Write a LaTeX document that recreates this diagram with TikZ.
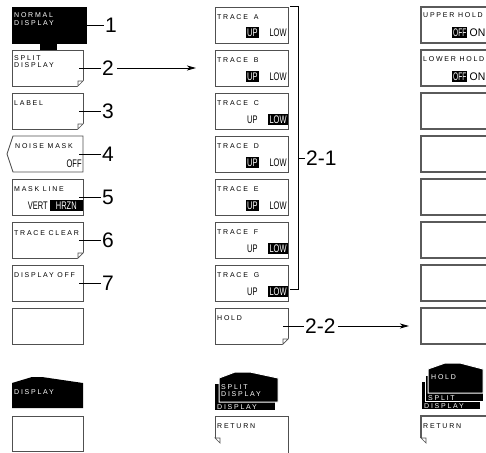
\documentclass[tikz,border=0pt]{standalone}
\usepackage{fontspec}
\usepackage{graphicx}
\setmainfont{Liberation Sans}
\newfontfamily\uif[LetterSpace=25]{Liberation Sans}
\usetikzlibrary{arrows.meta}
\definecolor{boxc}{RGB}{80,80,80}
\definecolor{rboxc}{RGB}{90,90,90}
\newcommand{\cnd}[1]{\scalebox{0.68}[1]{#1}}
\newcommand{\cndn}[1]{\scalebox{0.6}[1]{#1}}
\newcommand{\cndw}[1]{\scalebox{0.95}[1]{#1}}
\newcommand{\mkfold}[1]{%
  \fill[white] ([xshift=-5.6pt,yshift=-1pt]#1.south east) -- ([xshift=1pt,yshift=-1pt]#1.south east) -- ([xshift=1pt,yshift=5.6pt]#1.south east) -- cycle;
  \draw[boxc, line width=0.7pt, line join=miter] ([xshift=-5pt]#1.south east) -- ([yshift=5pt]#1.south east) -- ([xshift=-5pt,yshift=5pt]#1.south east) -- cycle;}
\tikzset{
  box/.style={draw=boxc, line width=0.9pt, fill=white, rectangle, inner sep=0pt, outer sep=0pt,
    minimum width=71pt, minimum height=36pt, anchor=north west},
  mbox/.style={box, minimum width=73pt},
  rbox/.style={box, draw=rboxc, line width=1.4pt, minimum width=80pt},
  ttl/.style={anchor=base west, inner sep=0pt, font=\uif\fontsize{7}{7}\selectfont},
  wttl/.style={ttl, text=white},
  opt/.style={anchor=base east, inner xsep=1.2pt, inner ysep=1.5pt, text height=8pt, text depth=0pt,
    font=\fontsize{11}{11}\selectfont},
  hl/.style={opt, fill=black, text=white},
  num/.style={anchor=west, inner sep=0pt, font=\fontsize{21}{21}\selectfont},
  lead/.style={line width=0.9pt},
  arr/.style={line width=0.9pt, -{Stealth[length=9pt,width=5pt,inset=2.5pt]}},
}
\begin{document}
\begin{tikzpicture}[x=1pt,y=-1pt]
\useasboundingbox[fill=white] (0,0) rectangle (486,452);

% ---------------- left column ----------------
\fill (40,42) rectangle (57,51);
\node[box, fill=black, draw=black, minimum width=74pt] (b1) at (12,7) {};
\node[wttl] (t1a) at (14,17.5) {NORMAL};
\node[wttl] (t1b) at (14,25.5) {DISPLAY};

\node[box] (b2) at (12,50) {};
\mkfold{b2}
\node[ttl] (t2a) at (14,60) {SPLIT};
\node[ttl] (t2b) at (14,67.5) {DISPLAY};

\node[box] (b3) at (12,93) {};
\mkfold{b3}
\node[ttl] (t3) at (14,105) {LABEL};

\node[rectangle, inner sep=0pt, outer sep=0pt, minimum width=70pt, minimum height=36pt, anchor=north west] (b4) at (13,136) {};
\draw[boxc, line width=0.9pt, fill=white] (b4.north west) -- (b4.north east) -- (b4.south east) -- (b4.south west) -- ([xshift=-6pt]b4.west) -- cycle;
\node[ttl] (t4) at (15,148) {NOISE MASK};
\node[opt] (o4) at (83,167) {\cnd{OFF}};

\node[box] (b5) at (12,179) {};
\node[ttl] (t5) at (14,191) {MASK LINE};
\node[opt] (v5) at (49,209) {\cnd{VERT}};
\node[hl, minimum width=33pt] (h5) at (83,209) {\cnd{HRZN}};

\node[box] (b6) at (12,222) {};
\mkfold{b6}
\node[ttl] (t6) at (14,235) {TRACE CLEAR};

\node[box] (b7) at (12,265) {};
\node[ttl] (t7) at (14,277) {DISPLAY OFF};

\node[box] (b8) at (12,308) {};

\fill (12,408) -- (12,383) -- (32,377) -- (42,377) -- (83,383) -- (83,408) -- cycle;
\node[wttl] (tdl) at (14,394) {DISPLAY};

\node[box, minimum height=35.5pt] (b9) at (12,416) {};

% numbers
\foreach \k in {1,...,7}{
  \node[num] (n\k) at ([xshift=19pt]b\k.east) {\k};
}
\draw[lead] (b1.east) -- ([xshift=-1pt]n1.west);
\foreach \k in {2,...,7}{
  \draw[lead] ([xshift=-4pt]b\k.east) -- ([xshift=-1pt]n\k.west);
}
\coordinate (a2end) at (196,68);
\draw[arr] ([xshift=3pt]n2.east) -- (a2end);

% ---------------- middle column ----------------
\foreach \i/\L/\h in {0/A/1,1/B/1,2/C/2,3/D/1,4/E/1,5/F/2,6/G/2}{
  \pgfmathsetmacro\t{7+43*\i}
  \node[mbox] (m\L) at (215,\t) {};
  \node[ttl] (mt\L) at (217,\t+12.5) {TRACE\hspace{6pt}\L};
  \ifnum\h=1
    \node[hl] (mu\L) at (259,\t+30) {\cnd{UP}};
    \node[opt] (ml\L) at (288,\t+30) {\cnd{LOW}};
  \else
    \node[opt] (mu\L) at (259,\t+30) {\cnd{UP}};
    \node[hl] (ml\L) at (288,\t+30) {\cnd{LOW}};
  \fi
}
\node[mbox] (mH) at (215,308) {};
\mkfold{mH}
\node[ttl] (mtH) at (217,320) {HOLD};

% bracket 2-1
\coordinate (brt) at (290,6);
\coordinate (brb) at (290,289);
\coordinate (brm) at (298,158);
\draw[line width=0.9pt] (brt) -| (298,289) -- (brb);
\node[num] (n21) at (306,158) {2-1};
\draw[lead] (brm) -- ([xshift=-1pt]n21.west);

% 2-2
\node[num] (n22) at (305,326) {2-2};
\draw[lead] ([xshift=-5pt]mH.east) -- ([xshift=-1.5pt]n22.west);
\coordinate (a22end) at (409,326);
\draw[arr] ([xshift=2pt]n22.east) -- (a22end);

% middle bottom tab
\fill (215,384) rectangle (275,410);
\filldraw[fill=black, draw=white, line width=1pt] (219,402) -- (219,378) -- (235,372) -- (250,372) -- (278,378) -- (278,402) -- cycle;
\node[wttl] (ms1) at (221,389) {SPLIT};
\node[wttl] (ms2) at (221,396) {DISPLAY};
\node[wttl] (ms3) at (217,409) {DISPLAY};

\draw[boxc, line width=0.9pt] (215,438) -- (215,416) -- (288,416) -- (288,460);
\draw[boxc, line width=0.7pt] (215,438) -- (220,438) -- (220,443) -- cycle;
\node[ttl] (mret) at (217,428) {RETURN};

% ---------------- right column ----------------
\foreach \i in {0,...,7}{
  \pgfmathsetmacro\t{7+43*\i}
  \node[rbox] (r\i) at (421,\t) {};
}
\node[ttl] (ru) at (423,18) {UPPER HOLD};
\node[hl, anchor=base west, inner xsep=1pt] (ruo) at (452,37) {\cndn{OFF}};
\node[opt, anchor=base west, inner xsep=0pt] (run) at (469.5,37) {\cndw{ON}};
\node[ttl] (rl) at (423,61) {LOWER HOLD};
\node[hl, anchor=base west, inner xsep=1pt] (rlo) at (452,80) {\cndn{OFF}};
\node[opt, anchor=base west, inner xsep=0pt] (rln) at (469.5,80) {\cndw{ON}};

% right bottom tab
\fill (422,382) rectangle (480,409);
\filldraw[fill=black, draw=white, line width=1pt] (425,375) rectangle (483,401);
\filldraw[fill=black, draw=white, line width=1pt] (428,393) -- (428,369) -- (445,363) -- (460,363) -- (483,369) -- (483,393) -- cycle;
\node[wttl] (rh1) at (431,379) {HOLD};
\node[wttl] (rh2) at (428,400) {SPLIT};
\node[wttl] (rh3) at (424,408) {DISPLAY};

\draw[rboxc, line width=1.4pt] (421,438) -- (421,416) -- (500,416);
\draw[boxc, line width=0.7pt] (421,438) -- (426,438) -- (426,443) -- cycle;
\node[ttl] (rret) at (423,428) {RETURN};
\end{tikzpicture}
\end{document}
